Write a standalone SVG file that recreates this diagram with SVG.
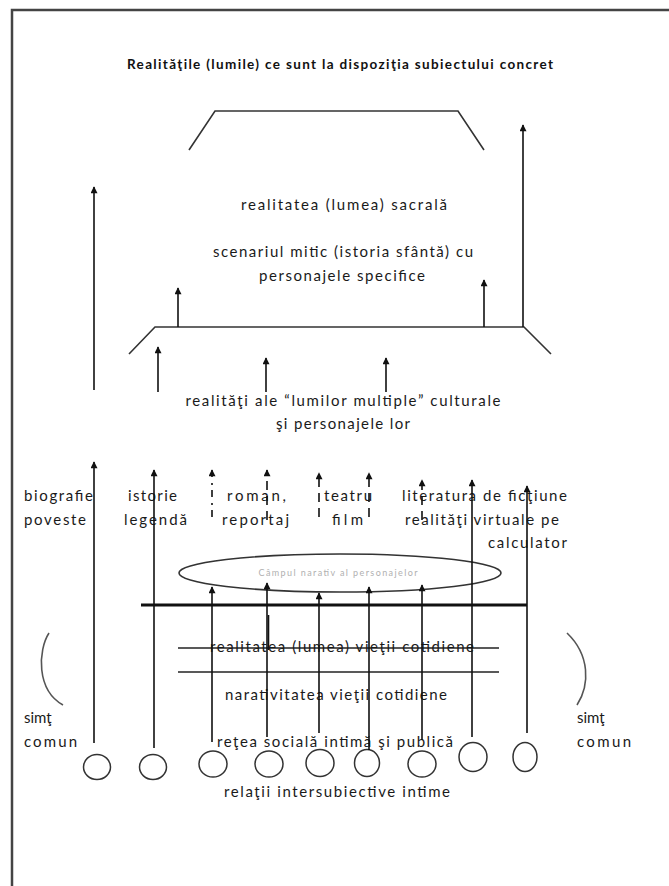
<svg xmlns="http://www.w3.org/2000/svg" width="669" height="886" viewBox="0 0 669 886">
  <style>
    .bg { fill: #ffffff; }
    .frame { fill: none; stroke: #444; stroke-width: 2.5; }
    .shape { fill: none; stroke: #333; stroke-width: 1.6; }
    .thick { fill: none; stroke: #111; stroke-width: 3.2; }
    .thin { fill: none; stroke: #222; stroke-width: 1.4; }
    .arrow { fill: none; stroke: #111; stroke-width: 1.6; marker-end: url(#head); }
    .dash { stroke-dasharray: 9 6; }
    .dashdot { stroke-dasharray: 7 5 2 6; }
    .plain { fill: none; stroke: #111; stroke-width: 1.6; }
    .paren { fill: none; stroke: #555; stroke-width: 1.6; }
    .circle { fill: none; stroke: #333; stroke-width: 1.5; }
    .t { font-family: Lato, "Open Sans", "Liberation Sans", sans-serif; font-size: 15px; fill: #1a1a1a; }
    .c { text-anchor: middle; }
    .title { font-family: Lato, "Liberation Sans", sans-serif; font-size: 13.5px; font-weight: bold; fill: #111; text-anchor: middle; }
    .small { font-family: Lato, "Liberation Sans", sans-serif; font-size: 9px; fill: #b0b0b0; text-anchor: middle; }
  </style>
  <defs>
    <marker id="head" viewBox="0 0 10 10" refX="9" refY="5" markerWidth="8" markerHeight="7" markerUnits="userSpaceOnUse" orient="auto">
      <path d="M0,0 L10,5 L0,10 z" fill="#111"/>
    </marker>
  </defs>

  <rect class="bg" x="0" y="0" width="669" height="886"/>

  <!-- page frame (left and top edges) -->
  <path class="frame" d="M12,886 L12,10 L669,10"/>

  <!-- heading -->
  <g id="title">
    <text class="title" x="340" y="69" textLength="426" lengthAdjust="spacing">Realităţile (lumile) ce sunt la dispoziţia subiectului concret</text>
  </g>

  <!-- sacred world level -->
  <g id="sacred">
    <polyline class="shape" points="189,150 215,111 458,111 484,150"/>
    <text class="t c" x="344" y="210" textLength="206" lengthAdjust="spacing">realitatea (lumea) sacrală</text>
    <text class="t c" x="343" y="257" textLength="260" lengthAdjust="spacing">scenariul mitic (istoria sfântă) cu</text>
    <text class="t c" x="342" y="281" textLength="166" lengthAdjust="spacing">personajele specifice</text>
  </g>

  <!-- cultural multiple worlds level -->
  <g id="cultural">
    <polyline class="shape" points="129,354 155,327 524,327 551,354"/>
    <text class="t c" x="343" y="406" textLength="315" lengthAdjust="spacing">realităţi ale “lumilor multiple” culturale</text>
    <text class="t c" x="343" y="429" textLength="134" lengthAdjust="spacing">şi personajele lor</text>
  </g>

  <!-- genre labels -->
  <g id="genre-biografie">
    <text class="t" x="24" y="501" textLength="69" lengthAdjust="spacing">biografie</text>
    <text class="t" x="24" y="525" textLength="62" lengthAdjust="spacing">poveste</text>
  </g>
  <g id="genre-istorie">
    <text class="t" x="128" y="501" textLength="49" lengthAdjust="spacing">istorie</text>
    <text class="t" x="124" y="525" textLength="63" lengthAdjust="spacing">legendă</text>
  </g>
  <g id="genre-roman">
    <text class="t" x="227" y="501" textLength="59" lengthAdjust="spacing">roman,</text>
    <text class="t" x="222" y="525" textLength="67" lengthAdjust="spacing">reportaj</text>
  </g>
  <g id="genre-teatru">
    <text class="t" x="324" y="501" textLength="48" lengthAdjust="spacing">teatru</text>
    <text class="t" x="332" y="525" textLength="31" lengthAdjust="spacing">film</text>
  </g>
  <g id="genre-literatura">
    <text class="t" x="402" y="501" textLength="165" lengthAdjust="spacing">literatura de ficţiune</text>
    <text class="t" x="405" y="525" textLength="154" lengthAdjust="spacing">realităţi virtuale pe</text>
    <text class="t" x="488" y="548" textLength="79" lengthAdjust="spacing">calculator</text>
  </g>

  <!-- narrative field of characters -->
  <g id="narrative-field">
    <ellipse class="shape" cx="340" cy="573" rx="161" ry="19"/>
    <text class="small" x="338" y="576" textLength="159" lengthAdjust="spacing">Câmpul narativ al personajelor</text>
  </g>

  <!-- everyday life level -->
  <g id="everyday">
    <line class="thick" x1="141" y1="605" x2="527" y2="605"/>
    <line class="thin" x1="178" y1="648" x2="499" y2="648"/>
    <line class="thin" x1="178" y1="672" x2="499" y2="672"/>
    <text class="t c" x="342" y="652" textLength="264" lengthAdjust="spacing">realitatea (lumea) vieţii cotidiene</text>
    <text class="t c" x="336" y="700" textLength="222" lengthAdjust="spacing">narativitatea vieţii cotidiene</text>
    <text class="t c" x="335" y="747" textLength="236" lengthAdjust="spacing">reţea socială intimă şi publică</text>
    <text class="t c" x="337" y="797" textLength="226" lengthAdjust="spacing">relaţii intersubiective intime</text>
  </g>

  <!-- common sense brackets -->
  <g id="common-sense-left">
    <path class="paren" d="M49,633 C38,650 36,690 63,705"/>
    <text class="t" x="24" y="723">simţ</text>
    <text class="t" x="24" y="747" textLength="53" lengthAdjust="spacing">comun</text>
  </g>
  <g id="common-sense-right">
    <path class="paren" d="M567,633 C590,655 590,685 577,705"/>
    <text class="t" x="577" y="723">simţ</text>
    <text class="t" x="577" y="747" textLength="54" lengthAdjust="spacing">comun</text>
  </g>

  <!-- subjects -->
  <g id="subjects">
    <ellipse class="circle" cx="97" cy="767" rx="13.5" ry="12.5"/>
    <ellipse class="circle" cx="153" cy="767" rx="13.5" ry="12.5"/>
    <ellipse class="circle" cx="213" cy="764" rx="14" ry="13"/>
    <ellipse class="circle" cx="269" cy="764" rx="14" ry="13"/>
    <ellipse class="circle" cx="320" cy="763" rx="14" ry="13.5"/>
    <ellipse class="circle" cx="367" cy="763" rx="12.5" ry="13.5"/>
    <ellipse class="circle" cx="422" cy="764" rx="14" ry="13"/>
    <ellipse class="circle" cx="473" cy="757" rx="14" ry="14.5"/>
    <ellipse class="circle" cx="525" cy="757" rx="12" ry="14.5"/>
  </g>

  <!-- connectors -->
  <g id="connectors">
    <!-- upper level arrows -->
    <line class="arrow" x1="94" y1="390" x2="94" y2="187"/>
    <line class="arrow" x1="523" y1="327" x2="523" y2="125"/>
    <line class="arrow" x1="178" y1="327" x2="178" y2="288"/>
    <line class="arrow" x1="484" y1="327" x2="484" y2="280"/>
    <line class="arrow" x1="158" y1="392" x2="158" y2="347"/>
    <line class="arrow" x1="266" y1="392" x2="266" y2="358"/>
    <line class="arrow" x1="386" y1="392" x2="386" y2="358"/>

    <!-- subjects to genres -->
    <line class="arrow" x1="94" y1="743" x2="94" y2="462"/>
    <line class="arrow" x1="154" y1="748" x2="154" y2="470"/>
    <line class="arrow" x1="472" y1="737" x2="472" y2="480"/>
    <line class="arrow" x1="527" y1="733" x2="527" y2="486"/>

    <!-- subjects to narrative field -->
    <line class="arrow" x1="212" y1="742" x2="212" y2="587"/>
    <line class="arrow" x1="267" y1="737" x2="267" y2="583"/>
    <line class="arrow" x1="319" y1="733" x2="319" y2="593"/>
    <line class="arrow" x1="369" y1="750" x2="369" y2="587"/>
    <line class="arrow" x1="422" y1="740" x2="422" y2="585"/>
    <line class="plain" x1="268.5" y1="615" x2="268.5" y2="650"/>

    <!-- narrative genres (broken arrows) -->
    <line class="arrow dashdot" x1="212" y1="517" x2="212" y2="470"/>
    <line class="arrow dash" x1="267" y1="520" x2="267" y2="470"/>
    <line class="arrow dash" x1="319" y1="517" x2="319" y2="473"/>
    <line class="arrow dash" x1="369" y1="517" x2="369" y2="473"/>
    <line class="arrow dash" x1="422" y1="520" x2="422" y2="480"/>
  </g>
</svg>
